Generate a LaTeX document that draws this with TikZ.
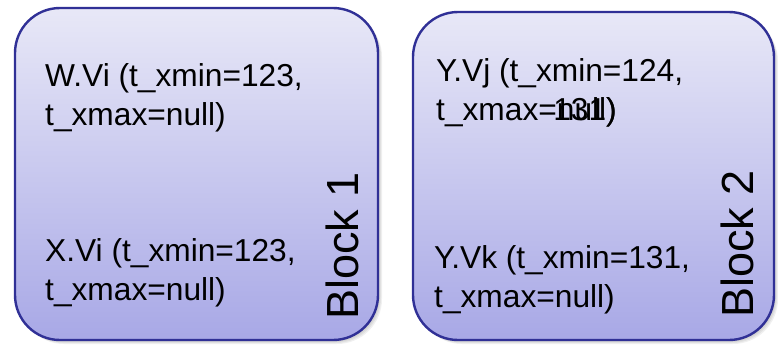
\documentclass[tikz,border=0pt]{standalone}
\usepackage{fontspec}
\setmainfont{Liberation Sans}
\definecolor{boxtop}{RGB}{232,232,247}
\definecolor{boxbot}{RGB}{168,168,230}
\definecolor{boxline}{RGB}{48,48,150}
\tikzset{
  blockbox/.style={draw=boxline, line width=2.4pt, rounded corners=45pt, top color=boxtop, bottom color=boxbot},
  shadowbox/.style={fill=black, opacity=0.06, rounded corners=45pt},
  txt/.style={anchor=base west, inner sep=0pt, font=\fontsize{31.7}{37}\selectfont},
  lbl/.style={anchor=base west, inner sep=0pt, rotate=90, font=\fontsize{45}{50}\selectfont}
}
\begin{document}
\begin{tikzpicture}[x=1pt,y=1pt]
\useasboundingbox (0,0) rectangle (778,-346);
% soft shadows
\foreach \s in {1,2,3,4} {
  \fill[shadowbox] (15+\s,-8-\s) rectangle (378+\s,-340-\s);
  \fill[shadowbox] (413+\s,-12-\s) rectangle (774+\s,-340-\s);
}
\path[blockbox] (15,-8) rectangle (378,-340);
\path[blockbox] (413,-12) rectangle (774,-340);
% block 1 texts
\node[txt] (w1) at (45,-86) {W.Vi (t\_xmin=123,};
\node[txt] (w2) at (45,-125) {t\_xmax=null)};
\node[txt] (x1) at (45,-261) {X.Vi (t\_xmin=123,};
\node[txt] (x2) at (45,-300) {t\_xmax=null)};
\node[lbl] (b1) at (358,-320) {Block 1};
% block 2 texts
\node[txt] (j1) at (436,-81) {Y.Vj (t\_xmin=124,};
\node[txt] (j2) at (436,-120) {t\_xmax=null)};
\node[txt, anchor=base east] (j2b) at (j2.base east) {131)};
\node[txt] (k1) at (434,-268) {Y.Vk (t\_xmin=131,};
\node[txt] (k2) at (434,-307) {t\_xmax=null)};
\node[lbl] (b2) at (753,-318) {Block 2};
\end{tikzpicture}
\end{document}
